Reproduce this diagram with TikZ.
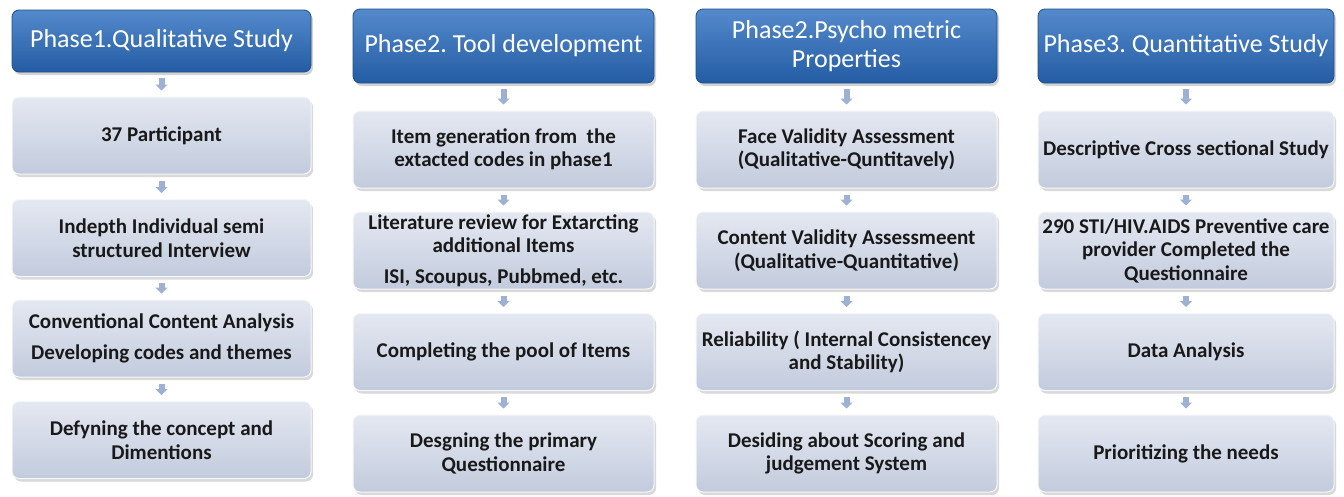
\documentclass[tikz,border=0pt]{standalone}
\usepackage{fontspec}
\setmainfont{Carlito}
\frenchspacing
\usetikzlibrary{arrows.meta,shadows}
\definecolor{phasetop}{RGB}{84,138,204}
\definecolor{phasebot}{RGB}{36,92,164}
\definecolor{steptop}{RGB}{228,232,241}
\definecolor{stepbot}{RGB}{194,203,221}
\definecolor{arrowblue}{RGB}{158,177,211}
\tikzset{
  phasebox/.style={rounded corners=7pt, top color=phasetop, bottom color=phasebot,
    draw=phasebot!85!black, line width=0.8pt, text=white, align=center,
    font=\fontsize{26}{29}\selectfont, inner sep=2pt,
    drop shadow={shadow xshift=2pt, shadow yshift=-3pt, opacity=0.35}},
  stepbox/.style={rounded corners=7pt, top color=steptop, bottom color=stepbot,
    draw=white!85!stepbot, line width=1pt, text=black!90, align=center,
    font=\fontsize{21}{23.5}\selectfont\bfseries, inner sep=2pt, minimum height=77pt,
    drop shadow={shadow xshift=2pt, shadow yshift=-3pt, opacity=0.3}},
  downarrow/.style={draw=arrowblue, line width=6pt, -{Triangle[width=12pt,length=6pt]},
    shorten <=6pt, shorten >=6pt}
}
\begin{document}
\begin{tikzpicture}[x=1pt,y=-1pt]
  \useasboundingbox (0,0) rectangle (1344,496);
  % Phase 1
  \node[phasebox, minimum width=299pt, minimum height=62pt] (h1) at (161.5,41) {Phase1.Qualitative Study};
  \node[stepbox, minimum width=299pt] (b11) at (161.5,135.5) {37 Participant};
  \node[stepbox, minimum width=299pt] (b12) at (161.5,238) {Indepth Individual semi\\structured Interview};
  \node[stepbox, minimum width=299pt] (b13) at (161.5,338.5) {Conventional Content Analysis\\[7pt]Developing codes and themes};
  \node[stepbox, minimum width=299pt] (b14) at (161.5,440) {Defyning the concept and\\Dimentions};
  % Phase 2
  \node[phasebox, minimum width=301pt, minimum height=74pt] (h2) at (503.5,46) {Phase2. Tool development};
  \node[stepbox, minimum width=301pt] (b21) at (503.5,149.5) {Item generation from~ the\\extacted codes in phase1};
  \node[stepbox, minimum width=301pt] (b22) at (503.5,250.5) {Literature review for Extarcting\\additional Items\\[7pt]ISI, Scoupus, Pubbmed, etc.};
  \node[stepbox, minimum width=301pt] (b23) at (503.5,352) {Completing the pool of Items};
  \node[stepbox, minimum width=301pt] (b24) at (503.5,453.5) {Desgning the primary\\Questionnaire};
  % Phase 2 psychometric
  \node[phasebox, minimum width=301pt, minimum height=74pt] (h3) at (846.5,46) {Phase2.Psycho metric\\Properties};
  \node[stepbox, minimum width=301pt] (b31) at (846.5,149.5) {Face Validity Assessment\\(Qualitative-Quntitavely)};
  \node[stepbox, minimum width=301pt] (b32) at (846.5,250.5) {Content Validity Assessmeent\\(Qualitative-Quantitative)};
  \node[stepbox, minimum width=301pt] (b33) at (846.5,352) {Reliability ( Internal Consistencey\\and Stability)};
  \node[stepbox, minimum width=301pt] (b34) at (846.5,453.5) {Desiding about Scoring and\\judgement System};
  % Phase 3
  \node[phasebox, minimum width=296pt, minimum height=74pt] (h4) at (1186,46) {Phase3. Quantitative Study};
  \node[stepbox, minimum width=296pt] (b41) at (1186,149.5) {Descriptive Cross sectional Study};
  \node[stepbox, minimum width=296pt] (b42) at (1186,250.5) {290 STI/HIV.AIDS Preventive care\\provider Completed the\\Questionnaire};
  \node[stepbox, minimum width=296pt] (b43) at (1186,352) {Data Analysis};
  \node[stepbox, minimum width=296pt] (b44) at (1186,453.5) {Prioritizing the needs};
  % arrows
  \draw[downarrow] (h1) -- (b11);
  \draw[downarrow] (b11) -- (b12);
  \draw[downarrow] (b12) -- (b13);
  \draw[downarrow] (b13) -- (b14);
  \draw[downarrow] (h2) -- (b21);
  \draw[downarrow] (b21) -- (b22);
  \draw[downarrow] (b22) -- (b23);
  \draw[downarrow] (b23) -- (b24);
  \draw[downarrow] (h3) -- (b31);
  \draw[downarrow] (b31) -- (b32);
  \draw[downarrow] (b32) -- (b33);
  \draw[downarrow] (b33) -- (b34);
  \draw[downarrow] (h4) -- (b41);
  \draw[downarrow] (b41) -- (b42);
  \draw[downarrow] (b42) -- (b43);
  \draw[downarrow] (b43) -- (b44);
\end{tikzpicture}
\end{document}
